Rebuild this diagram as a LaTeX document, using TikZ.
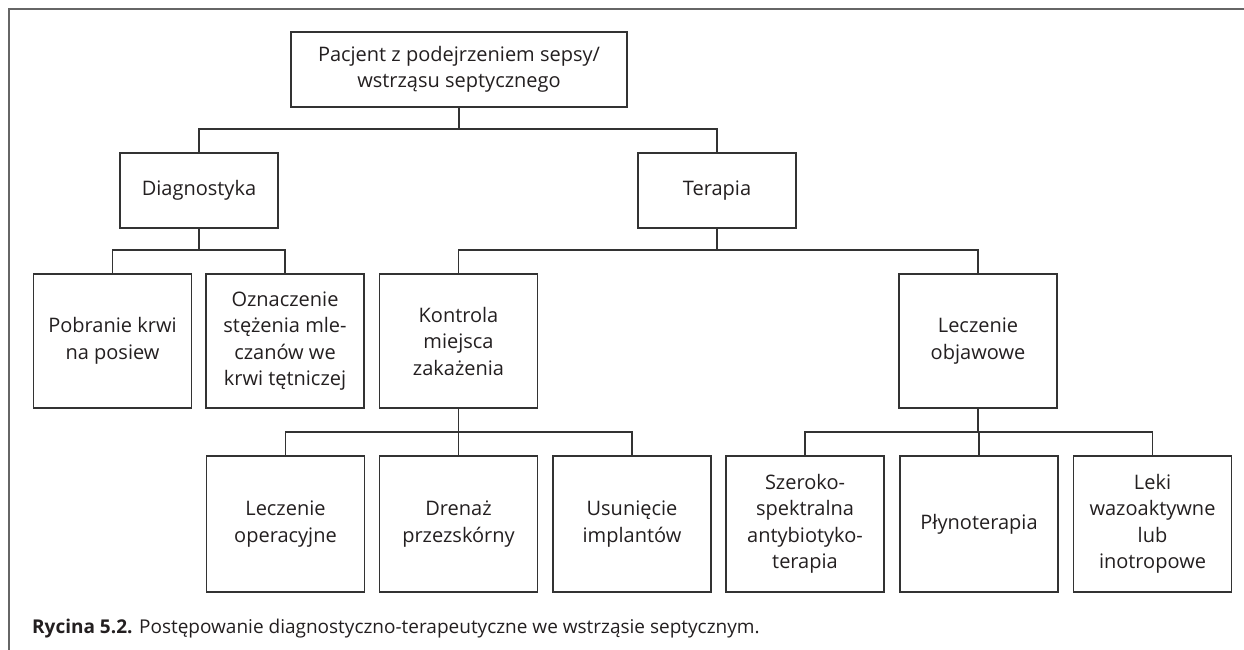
\documentclass[tikz,border=0pt]{standalone}
\usepackage{fontspec}
\setmainfont{Open Sans}
\definecolor{ink}{HTML}{231F20}
\definecolor{linecol}{HTML}{333333}
\definecolor{framecol}{HTML}{666666}
\begin{document}
\begin{tikzpicture}[x=1pt,y=-1pt,
  box/.style={draw=linecol, line width=1.2pt, inner sep=0pt, align=center,
    text=ink, font=\fontsize{20}{26.5}\selectfont, minimum width=158pt},
  wide/.style={box, minimum width=336pt, minimum height=75pt},
  mid/.style={box, minimum height=75pt},
  tall/.style={box, minimum height=134pt},
  taller/.style={box, minimum height=136pt},
  conn/.style={draw=linecol, line width=1.2pt}]
\useasboundingbox (0,0) rectangle (1244,650);
\draw[framecol, line width=2pt] (9,660) -- (9,9) -- (1260,9);

\node[wide] (root) at (459,69.5) {Pacjent z podejrzeniem sepsy/\\wstrząsu septycznego};
\node[mid] (diag) at (199,190.5) {Diagnostyka};
\node[mid] (ter) at (717,190.5) {Terapia};

\node[tall] (pob) at (112.5,341) {Pobranie krwi\\na posiew};
\node[tall] (ozn) at (285,341) {Oznaczenie\\stężenia mle-\\czanów we\\krwi tętniczej};
\node[tall] (kon) at (458.5,341) {Kontrola\\miejsca\\zakażenia};
\node[tall] (lob) at (978,341) {Leczenie\\objawowe};

\node[taller] (lop) at (285.5,524) {Leczenie\\operacyjne};
\node[taller] (dre) at (458.5,524) {Drenaż\\przezskórny};
\node[taller] (usu) at (632,524) {Usunięcie\\implantów};
\node[taller] (sze) at (805,524) {Szeroko-\\spektralna\\antybiotyko-\\terapia};
\node[taller] (ply) at (979,524) {Płynoterapia};
\node[taller] (lek) at (1152.5,524) {Leki\\wazoaktywne\\lub\\inotropowe};

\coordinate (b1) at (0,129);
\coordinate (b2) at (0,250);
\coordinate (b3) at (0,432);

\draw[conn] (root.south) -- (root.south |- b1);
\draw[conn] (diag.north) -- (diag.north |- b1) -- (ter.north |- b1) -- (ter.north);

\draw[conn] (diag.south) -- (diag.south |- b2);
\draw[conn] (pob.north) -- (pob.north |- b2) -- (ozn.north |- b2) -- (ozn.north);

\draw[conn] (ter.south) -- (ter.south |- b2);
\draw[conn] (kon.north) -- (kon.north |- b2) -- (lob.north |- b2) -- (lob.north);

\draw[conn] (kon.south) -- (kon.south |- b3);
\draw[conn] (lop.north) -- (lop.north |- b3) -- (usu.north |- b3) -- (usu.north);
\draw[conn] (dre.north) -- (dre.north |- b3);

\draw[conn] (lob.south) -- (lob.south |- b3);
\draw[conn] (sze.north) -- (sze.north |- b3) -- (lek.north |- b3) -- (lek.north);
\draw[conn] (ply.north) -- (ply.north |- b3);

\node[anchor=base west, inner sep=0pt, text=ink, font=\fontsize{19}{23}\selectfont] (cap) at (32,633)
  {\textbf{Rycina 5.2.} Postępowanie diagnostyczno-terapeutyczne we wstrząsie septycznym.};
\end{tikzpicture}
\end{document}
